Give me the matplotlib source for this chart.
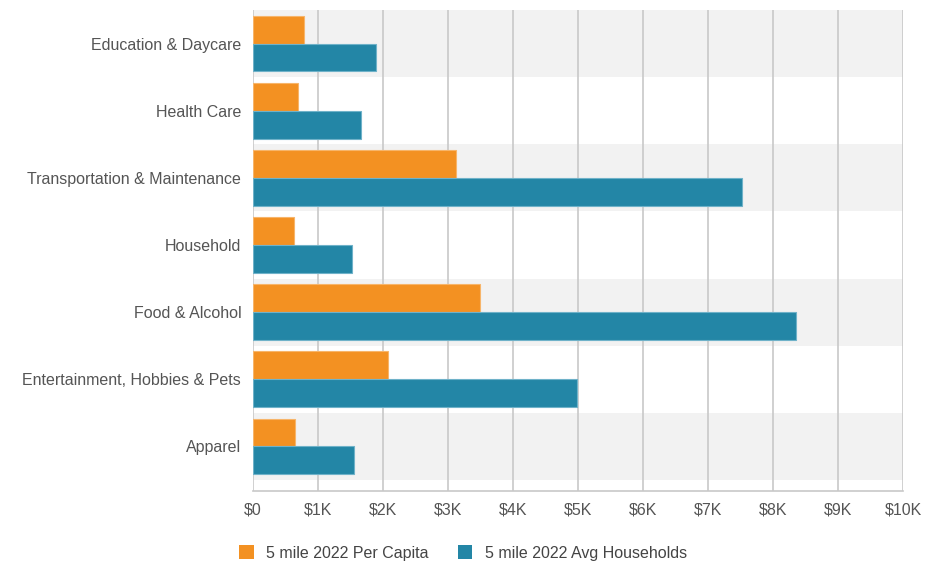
import matplotlib
matplotlib.use('Agg')
import matplotlib.pyplot as plt
from matplotlib.patches import Patch
from matplotlib.ticker import FuncFormatter
import numpy as np

# data (in thousands of dollars)
categories = ['Education & Daycare', 'Health Care', 'Transportation & Maintenance',
              'Household', 'Food & Alcohol', 'Entertainment, Hobbies & Pets', 'Apparel']
per_capita = [0.785, 0.69, 3.13, 0.625, 3.49, 2.07, 0.64]
avg_households = [1.89, 1.655, 7.52, 1.52, 8.36, 4.98, 1.555]
series_names = ['5 mile 2022 Per Capita', '5 mile 2022 Avg Households']

orange = '#F39122'
blue = '#2386A6'
txt = '#555555'

plt.rcParams['font.family'] = ['Liberation Sans', 'DejaVu Sans']

fig = plt.figure(figsize=(9.41, 5.64), dpi=100)
ax = fig.add_axes([253/941, 1-491/564, (903-253)/941, (491-10)/564])

y = np.arange(len(categories))
h = 0.415

# alternating shaded bands
for i in y:
    if i % 2 == 0:
        ax.axhspan(i-0.5, i+0.5, color='#f2f2f2', zorder=0, lw=0)

ax.barh(y-h/2, per_capita, height=h, color=orange, edgecolor='#f7b56a', lw=0.8, zorder=3)
ax.barh(y+h/2, avg_households, height=h, color=blue, edgecolor='#6fb2c9', lw=0.8, zorder=3)

ax.set_xlim(0, 10)
ax.set_ylim(6.5 + 11/67, -0.5)
ax.set_xticks(np.arange(0, 11, 1))
ax.xaxis.set_major_formatter(FuncFormatter(lambda v, p: '$0' if v == 0 else '$%dK' % v))
ax.set_yticks(y)
ax.set_yticklabels(categories)
ax.grid(axis='x', color='#c8c8c8', lw=1.2, zorder=1)
ax.set_axisbelow(True)
ax.tick_params(length=0, labelsize=11.5, colors=txt)
ax.tick_params(axis='x', pad=8)
ax.tick_params(axis='y', pad=8.5)
for s in ['top', 'right', 'left']:
    ax.spines[s].set_visible(False)
ax.spines['bottom'].set_color('#c8c8c8')
ax.spines['bottom'].set_linewidth(1.2)

handles = [Patch(facecolor=orange, edgecolor='none'), Patch(facecolor=blue, edgecolor='none')]
fig.legend(handles, series_names, loc='center', bbox_to_anchor=(463/941, 1-553/564), ncol=2,
           frameon=False, fontsize=11.5, handlelength=0.9, handleheight=0.9,
           handletextpad=0.8, columnspacing=1.8, labelcolor='#444444')

fig.savefig('out.png', dpi=100)
